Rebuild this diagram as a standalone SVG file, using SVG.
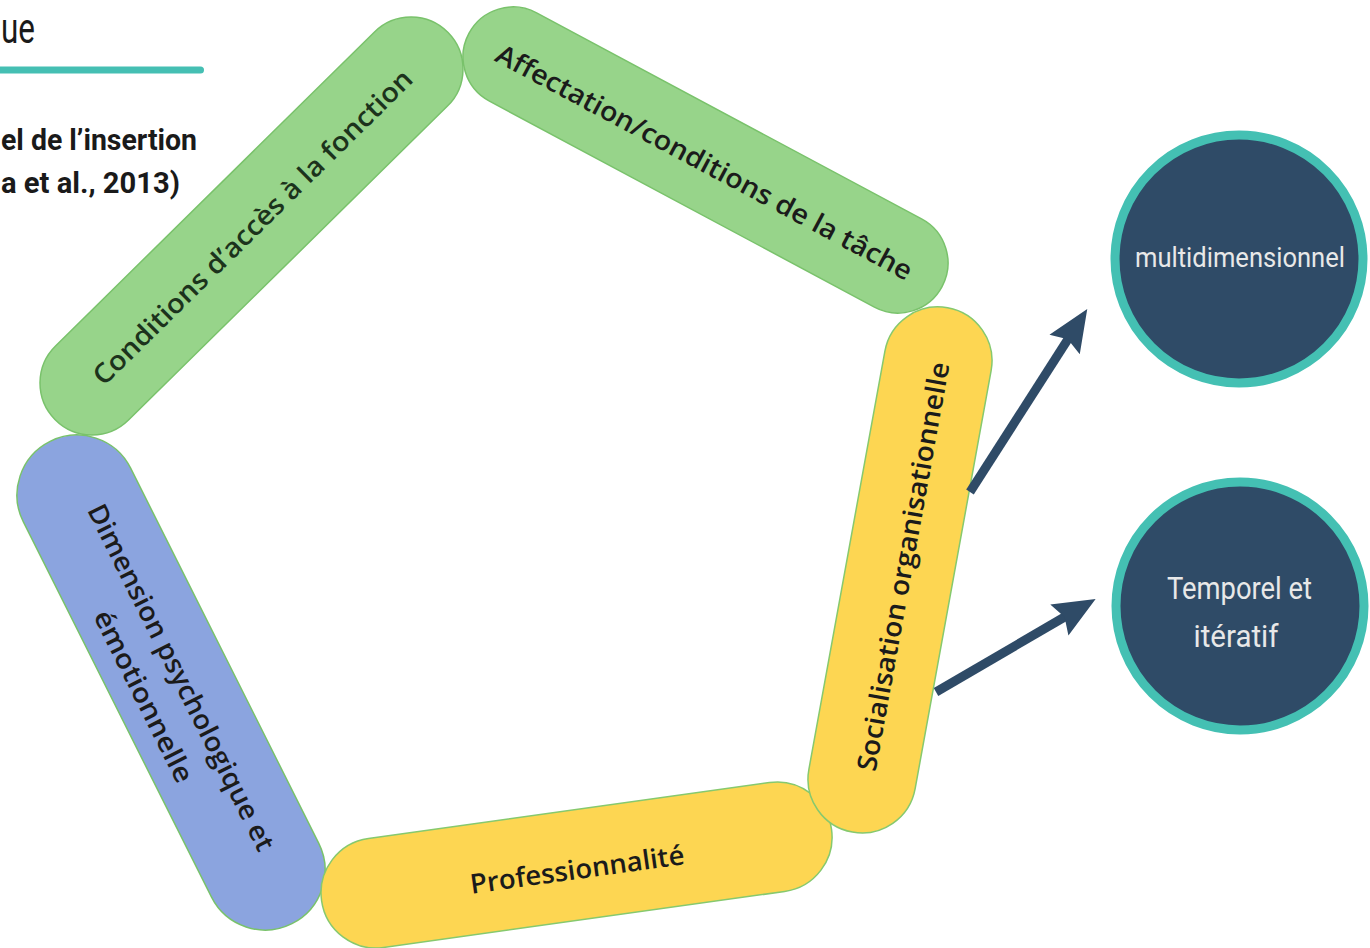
<svg xmlns="http://www.w3.org/2000/svg" width="1370" height="948" viewBox="0 0 1370 948">
  <defs>
    <style>
      .green { fill: #97d48a; stroke: #79c26b; stroke-width: 1.5; }
      .yellow { fill: #fdd652; stroke: #86c96e; stroke-width: 1.5; }
      .blue { fill: #8ba4df; stroke: #79c26b; stroke-width: 1.5; }
      .ptxt { font-family: "Open Sans", "Noto Sans", sans-serif; font-size: 27px; font-weight: 600; fill: #1b1b1b; text-anchor: middle; }
      .ptxt-g { fill: #1c331c; }
      .circ { fill: #2f4b67; stroke: #44c0b3; stroke-width: 9; }
      .ctxt { font-family: Roboto, "Liberation Sans", sans-serif; fill: #e8e8e8; text-anchor: middle; }
      .head { font-family: Roboto, "Liberation Sans", sans-serif; fill: #1a1a1a; }
      .conn { stroke: #2f4b67; stroke-width: 9; fill: none; marker-end: url(#arrow); }
    </style>
    <marker id="arrow" markerUnits="userSpaceOnUse" markerWidth="44" markerHeight="40" viewBox="0 0 44 40" refX="10" refY="20" orient="auto">
      <path d="M0,2 L42,20 L0,38 L6,20 Z" fill="#2f4b67"/>
    </marker>
  </defs>

  <rect x="0" y="0" width="1370" height="948" fill="#ffffff"/>

  <g id="title">
    <text class="head" x="1" y="43" font-size="42" font-weight="400" textLength="34" lengthAdjust="spacingAndGlyphs">ue</text>
    <line x1="-5" y1="70" x2="200.5" y2="70" stroke="#45bfb3" stroke-width="7" stroke-linecap="round"/>
    <text class="head" x="1" y="150" font-size="30" font-weight="700" textLength="196" lengthAdjust="spacingAndGlyphs">el de l’insertion</text>
    <text class="head" x="1" y="193" font-size="30" font-weight="700" textLength="179" lengthAdjust="spacingAndGlyphs">a et al., 2013)</text>
  </g>

  <g id="node-dimension" transform="translate(171,682.5) rotate(63.37)">
    <rect class="blue" x="-269.7" y="-60" width="539.5" height="120" rx="60"/>
    <text class="ptxt" x="0" y="-2" textLength="384" lengthAdjust="spacingAndGlyphs">Dimension psychologique et</text>
    <text class="ptxt" x="0" y="40" textLength="189" lengthAdjust="spacingAndGlyphs">émotionnelle</text>
  </g>

  <g id="node-conditions" transform="translate(251.5,226) rotate(-44.55)">
    <rect class="green" x="-275.8" y="-52" width="551.6" height="104" rx="52"/>
    <text class="ptxt ptxt-g" x="0" y="11" textLength="436" lengthAdjust="spacingAndGlyphs">Conditions d’accès à la fonction</text>
  </g>

  <g id="node-professionnalite" transform="translate(576.5,865) rotate(-7.95)">
    <rect class="yellow" x="-257.4" y="-55" width="514.9" height="110" rx="55"/>
    <text class="ptxt" x="0" y="14" font-size="28" textLength="216" lengthAdjust="spacingAndGlyphs">Professionnalité</text>
  </g>

  <g id="node-affectation" transform="translate(705.5,160) rotate(28.15)">
    <rect class="green" x="-268.3" y="-50" width="536.6" height="100" rx="50"/>
    <text class="ptxt" x="0" y="12" textLength="468" lengthAdjust="spacingAndGlyphs">Affectation/conditions de la tâche</text>
  </g>

  <g id="node-socialisation" transform="translate(900,570) rotate(-79.7)">
    <rect class="yellow" x="-266.4" y="-54" width="532.9" height="108" rx="54"/>
    <text class="ptxt" x="4" y="12" textLength="415" lengthAdjust="spacingAndGlyphs">Socialisation organisationnelle</text>
  </g>

  <g id="node-multidimensionnel">
    <circle class="circ" cx="1239" cy="259" r="124"/>
    <text class="ctxt" x="1240" y="267" font-size="28" textLength="210" lengthAdjust="spacingAndGlyphs">multidimensionnel</text>
  </g>

  <g id="node-temporel">
    <circle class="circ" cx="1240" cy="606" r="124"/>
    <text class="ctxt" x="1239.5" y="599" font-size="32" textLength="145" lengthAdjust="spacingAndGlyphs">Temporel et</text>
    <text class="ctxt" x="1236" y="647" font-size="32" textLength="85" lengthAdjust="spacingAndGlyphs">itératif</text>
  </g>

  <g id="connectors">
    <line class="conn" x1="970" y1="492" x2="1070" y2="336"/>
    <line class="conn" x1="936" y1="692" x2="1068" y2="615"/>
  </g>
</svg>
